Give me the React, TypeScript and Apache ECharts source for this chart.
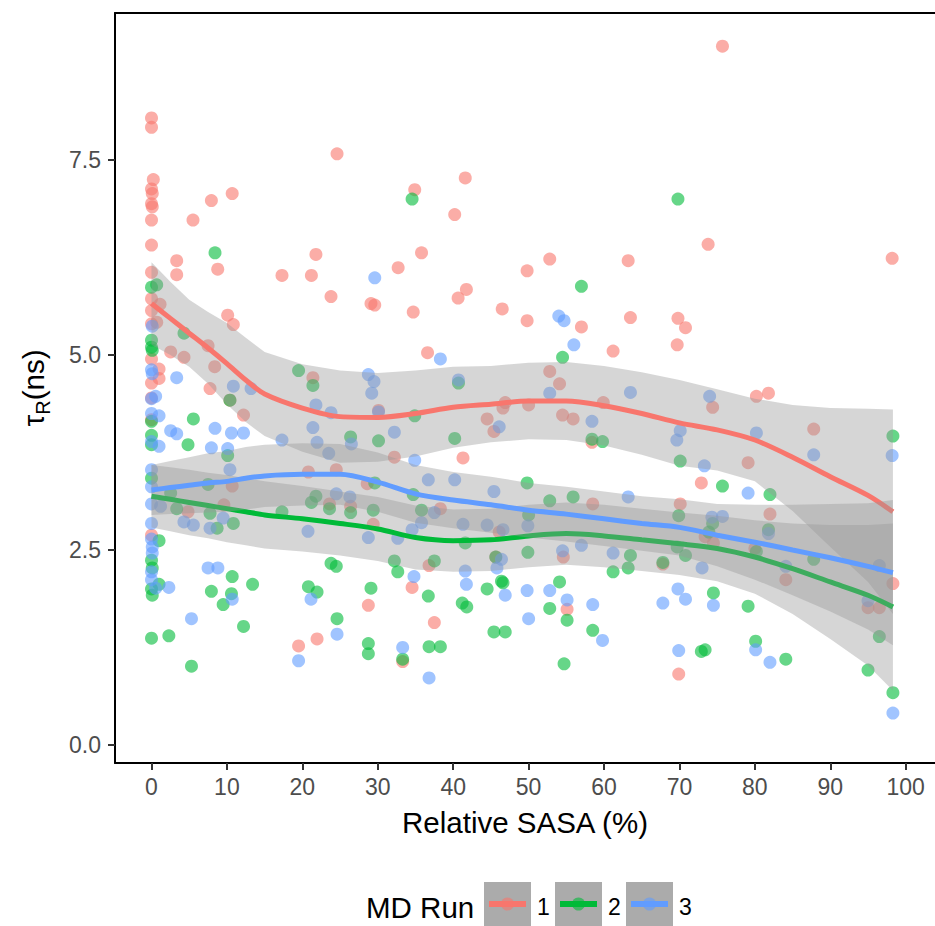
import React, { useEffect, useRef } from "react";
import * as echarts from "echarts";

const FONT = "'Liberation Sans', Arial, Helvetica, sans-serif";
const RUN_NAMES = ["1", "2", "3"];
const RUN_COLORS = ["#F8766D", "#00BA38", "#619CFF"];

const xTicks = [0, 10, 20, 30, 40, 50, 60, 70, 80, 90, 100];
const yTicks = [0, 2.5, 5, 7.5];

// Relative SASA (%) vs tau_R (ns), one list per MD run
const run1Points: [number, number][] = [
  [0, 8.04], [0, 7.92], [0.24, 7.25], [0, 7.13], [0.1, 7.07], [0, 6.94], [0.1, 6.9], [0, 6.73], [0, 6.41], [0, 6.06],
  [0, 5.72], [0, 5.57], [0, 5.4], [0, 4.95], [0, 4.64], [0, 4.45], [0, 4.17], [0, 2.69],
  [0.69, 5.42], [1.13, 5.65], [1.0, 4.82], [1.0, 4.7],
  [3.34, 6.21], [3.34, 6.03], [5.5, 6.73], [7.94, 6.98], [10.7, 7.07], [8.78, 6.1], [10.1, 5.51], [10.85, 5.39],
  [2.54, 5.04], [4.31, 4.97], [7.5, 5.12], [8.38, 4.85], [7.76, 4.57], [12.2, 4.23], [10.4, 4.42], [10.7, 3.32],
  [4.84, 2.99], [9.6, 3.08],
  [24.6, 7.58], [41.6, 7.27], [34.9, 7.12], [40.2, 6.8], [21.8, 6.29], [35.8, 6.31], [17.3, 6.02], [21.2, 6.02],
  [32.7, 6.12], [23.8, 5.75], [41.75, 5.84], [40.65, 5.73], [29.1, 5.66], [29.6, 5.64], [34.7, 5.55], [36.6, 5.03],
  [21.4, 4.71],
  [30.1, 4.29], [32.2, 3.69], [41.3, 3.68], [20.8, 3.5], [24.5, 3.53], [28.6, 3.35], [23.6, 3.09], [26.4, 3.06],
  [29.4, 2.83], [38.3, 3.03], [36.8, 2.3], [34.55, 2.02], [28.75, 1.79], [37.5, 1.57], [19.5, 1.27], [21.95, 1.36],
  [33.3, 1.07],
  [52.8, 6.23], [49.8, 6.08], [63.2, 6.21], [73.8, 6.42], [46.5, 5.59], [49.8, 5.44], [57.0, 5.36], [63.5, 5.48],
  [69.8, 5.47], [70.8, 5.35], [61.2, 5.05], [69.7, 5.13], [52.8, 4.79], [54.1, 4.63],
  [46.9, 4.39], [46.6, 4.32], [50.0, 4.36], [44.5, 4.18], [45.4, 4.02], [54.5, 4.23], [55.9, 4.18], [59.9, 4.39],
  [58.4, 3.88], [72.9, 3.36], [58.5, 3.09], [70.1, 3.09], [46.1, 2.73], [45.65, 2.41], [54.6, 2.41], [67.8, 2.32],
  [55.1, 1.74], [69.9, 0.91], [73.4, 2.67],
  [75.7, 8.96], [98.2, 6.24],
  [80.2, 4.47], [81.8, 4.51], [74.4, 4.33], [87.8, 4.05], [79.1, 3.62], [82.0, 2.96], [74.5, 2.59], [80.0, 2.52],
  [84.1, 2.12], [98.3, 2.07], [95.0, 1.76], [96.5, 1.76],
];

const run2Points: [number, number][] = [
  [0, 5.87], [0.69, 5.9], [0, 5.19], [0, 5.1], [0.1, 5.06], [0, 4.15], [0, 3.97], [0, 3.85], [0, 3.42], [0, 2.37],
  [0.1, 2.27], [0, 2.0], [0.1, 1.92], [0, 1.37],
  [8.42, 6.31], [4.31, 5.28], [5.55, 4.18], [4.84, 3.85], [10.1, 3.71], [2.54, 3.23], [7.5, 3.34], [3.34, 3.03],
  [7.76, 2.97], [8.7, 2.78], [10.85, 2.84], [1.0, 2.62], [1.0, 2.06], [10.7, 2.16], [13.4, 2.06], [7.94, 1.97],
  [10.6, 1.94], [9.5, 1.8], [12.2, 1.52], [2.3, 1.4], [5.3, 1.01], [10.4, 4.42],
  [34.55, 7.0], [19.5, 4.8], [21.4, 4.61], [40.7, 4.64],
  [34.9, 4.22], [26.4, 3.95], [30.1, 3.9], [40.2, 3.93], [29.6, 3.36], [21.8, 3.19], [21.2, 3.11], [34.7, 3.21],
  [17.3, 2.99], [23.6, 3.03], [26.4, 2.98], [29.4, 3.01], [35.8, 3.01], [23.8, 2.33], [24.5, 2.29], [32.2, 2.36],
  [32.65, 2.22], [37.5, 2.36], [41.6, 2.59], [20.8, 2.03], [21.95, 1.96], [29.1, 2.01], [36.7, 1.91], [24.6, 1.62],
  [41.2, 1.82], [41.8, 1.77], [28.75, 1.3], [28.75, 1.17], [33.3, 1.1], [36.8, 1.26], [38.3, 1.26],
  [69.8, 7.0], [57.0, 5.88], [54.5, 4.97],
  [49.8, 3.36], [52.8, 3.13], [55.9, 3.18], [50.0, 2.95], [69.9, 2.94], [58.4, 3.92], [59.8, 3.89], [70.1, 3.64],
  [49.9, 2.47], [63.5, 2.43], [63.2, 2.27], [61.2, 2.22], [67.8, 2.34], [69.7, 2.54], [70.8, 2.43], [45.65, 2.41],
  [46.4, 2.1], [46.6, 2.08], [44.5, 2.0], [54.1, 2.09], [52.8, 1.75], [55.1, 1.6], [45.4, 1.45], [46.9, 1.45],
  [58.5, 1.47], [54.7, 1.04], [72.9, 1.2], [73.4, 1.22],
  [98.3, 3.96], [75.7, 3.32], [82.0, 3.21], [74.4, 2.84], [73.9, 2.73], [81.8, 2.76], [80.2, 2.48], [87.8, 2.38],
  [74.5, 1.95], [79.1, 1.78], [80.1, 1.33], [84.1, 1.1], [96.5, 1.39], [95.0, 0.96], [98.3, 0.67],
];

const run3Points: [number, number][] = [
  [0.1, 5.37], [0, 4.81], [0.1, 4.76], [0, 4.44], [0.55, 4.47], [0, 4.25], [1.0, 4.22], [0, 3.89], [1.0, 3.83],
  [0, 3.53], [0, 3.31], [0, 3.09], [1.2, 3.06], [0, 2.84], [0, 2.64], [0.1, 2.54], [0.1, 2.46], [0, 2.22], [0, 2.12],
  [0.55, 2.01],
  [3.34, 4.71], [10.85, 4.6], [13.2, 4.57], [2.54, 4.03], [3.34, 3.99], [8.42, 4.06], [10.6, 4.0], [12.2, 4.0],
  [7.94, 3.81], [10.1, 3.8], [10.4, 3.53], [4.3, 2.86], [5.55, 2.82], [7.76, 2.78], [9.5, 2.91], [2.3, 2.02],
  [7.5, 2.27], [8.8, 2.27], [10.7, 1.87], [5.3, 1.62],
  [29.6, 5.99], [38.3, 4.95], [28.75, 4.75], [29.5, 4.66], [40.7, 4.68],
  [29.2, 4.51], [30.1, 4.27], [21.8, 4.36], [23.8, 4.26], [21.4, 4.07], [17.3, 3.91], [21.95, 3.88], [26.5, 3.86],
  [32.2, 4.01], [23.5, 3.74], [34.9, 3.65], [36.7, 3.4], [40.2, 3.4], [24.5, 3.22], [26.3, 3.18], [37.5, 2.98],
  [35.8, 2.85], [34.55, 2.76], [41.3, 2.83], [20.75, 2.74], [28.75, 2.66], [32.65, 2.65], [34.8, 2.16], [41.6, 2.23],
  [41.75, 2.06], [21.15, 1.87], [24.6, 1.42], [19.5, 1.08], [33.3, 1.25], [36.8, 0.86],
  [54.0, 5.5], [54.7, 5.44], [56.0, 5.13],
  [52.8, 4.51], [63.5, 4.52], [46.1, 4.08], [58.4, 4.15], [70.1, 4.03], [69.65, 3.91], [73.3, 3.58], [45.4, 3.25],
  [63.2, 3.18], [44.5, 2.82], [46.6, 2.76], [49.9, 2.81], [57.0, 2.56], [54.5, 2.49], [61.2, 2.46], [46.4, 2.38],
  [45.8, 2.27], [73.0, 2.27], [46.9, 1.92], [49.8, 1.98], [52.8, 1.98], [55.1, 1.86], [58.5, 1.8], [50.0, 1.62],
  [59.8, 1.34], [67.8, 1.82], [69.8, 2.0], [70.8, 1.87], [69.9, 1.21],
  [74.0, 4.47], [80.2, 4.0], [87.8, 3.72], [98.2, 3.71], [79.1, 3.23], [74.3, 2.92], [75.7, 2.93], [81.8, 2.71],
  [84.1, 2.29], [96.5, 2.3], [95.0, 1.85], [74.5, 1.79], [80.1, 1.22], [82.0, 1.06], [98.3, 0.41],
];

// Loess fits with their confidence bands, sampled along Relative SASA
const fitX = [0, 2.5, 5, 7.5, 10, 12.5, 15, 20, 25, 30, 35, 40, 45, 50, 55, 60, 65, 70, 75, 80, 85, 90, 95, 98.3];

const fit1 = [5.66, 5.47, 5.28, 5.09, 4.89, 4.68, 4.5, 4.32, 4.21, 4.2, 4.25, 4.33, 4.37, 4.41, 4.41, 4.35, 4.25, 4.13, 4.04, 3.91, 3.69, 3.44, 3.2, 2.99];
const hi1 = [6.19, 5.94, 5.71, 5.55, 5.41, 5.22, 5.04, 4.88, 4.8, 4.77, 4.8, 4.85, 4.86, 4.9, 4.91, 4.86, 4.78, 4.68, 4.56, 4.44, 4.36, 4.32, 4.31, 4.3];
const lo1 = [5.13, 5.0, 4.85, 4.63, 4.37, 4.14, 3.96, 3.76, 3.62, 3.63, 3.7, 3.81, 3.88, 3.92, 3.91, 3.84, 3.72, 3.58, 3.52, 3.38, 3.0, 2.54, 2.09, 1.68];

const fit2 = [3.19, 3.15, 3.11, 3.07, 3.03, 2.99, 2.95, 2.9, 2.84, 2.77, 2.66, 2.62, 2.63, 2.68, 2.71, 2.68, 2.63, 2.58, 2.52, 2.41, 2.26, 2.09, 1.92, 1.77];
const hi2 = [3.59, 3.56, 3.53, 3.49, 3.46, 3.42, 3.38, 3.32, 3.25, 3.18, 3.07, 3.02, 3.03, 3.08, 3.11, 3.08, 3.03, 2.98, 2.94, 2.88, 2.84, 2.82, 2.82, 2.84];
const lo2 = [2.79, 2.74, 2.69, 2.65, 2.6, 2.56, 2.52, 2.48, 2.43, 2.36, 2.25, 2.22, 2.23, 2.28, 2.31, 2.28, 2.23, 2.18, 2.1, 1.94, 1.68, 1.36, 1.02, 0.7];

const fit3 = [3.27, 3.3, 3.33, 3.36, 3.38, 3.42, 3.45, 3.47, 3.47, 3.37, 3.22, 3.14, 3.08, 3.01, 2.96, 2.9, 2.84, 2.79, 2.69, 2.6, 2.5, 2.4, 2.29, 2.21];
const hi3 = [3.59, 3.64, 3.69, 3.74, 3.77, 3.82, 3.85, 3.87, 3.86, 3.75, 3.59, 3.5, 3.44, 3.36, 3.31, 3.25, 3.19, 3.15, 3.09, 3.08, 3.08, 3.09, 3.1, 3.14];
const lo3 = [2.95, 2.96, 2.97, 2.98, 2.99, 3.02, 3.05, 3.07, 3.08, 2.99, 2.85, 2.78, 2.72, 2.66, 2.61, 2.55, 2.49, 2.43, 2.29, 2.12, 1.92, 1.71, 1.48, 1.28];

const runPoints = [run1Points, run2Points, run3Points];
const runFits = [fit1, fit2, fit3];
const runBands = [[lo1, hi1], [lo2, hi2], [lo3, hi3]];

// Panel extent (data units) and layout in pixels
const X_MIN = -4.84;
const X_MAX = 103.88;
const Y_MIN = -0.231;
const Y_MAX = 9.385;
const PANEL = { left: 115, right: 0, top: 13, bottom: 163 };
// Grid spanning exactly the labelled tick range, used for ticks and tick labels
const TICK_GRID = { left: 151.5, right: 29.3, top: 160, bottom: 181 };

function bandSeries(lo: number[], hi: number[], z: number) {
  const data = fitX.map((x, i) => [x, lo[i], hi[i]]);
  return {
    type: "custom",
    silent: true,
    z,
    data,
    encode: { x: 0, y: [1, 2] },
    renderItem: (params: any, api: any) => {
      if (params.dataIndex !== 0) return null;
      const upper = data.map((d) => api.coord([d[0], d[2]]));
      const lower = data.map((d) => api.coord([d[0], d[1]])).reverse();
      return {
        type: "polygon",
        shape: { points: upper.concat(lower) },
        style: { fill: "rgba(153,153,153,0.4)", stroke: "none" },
      };
    },
  };
}

function legendGraphics() {
  const els: any[] = [
    {
      type: "text",
      left: 366,
      top: 892,
      style: { text: "MD Run", fontSize: 29.5, fontFamily: FONT, fill: "#000" },
    },
  ];
  RUN_NAMES.forEach((name, i) => {
    const x0 = 484 + i * 71;
    els.push({ type: "rect", shape: { x: x0, y: 882, width: 47, height: 44 }, style: { fill: "#ABABAB" } });
    els.push({
      type: "circle",
      shape: { cx: x0 + 23.5, cy: 904, r: 6.5 },
      style: { fill: RUN_COLORS[i], opacity: 0.6 },
    });
    els.push({
      type: "line",
      shape: { x1: x0 + 5, y1: 904, x2: x0 + 42, y2: 904 },
      style: { stroke: RUN_COLORS[i], lineWidth: 6 },
    });
    els.push({
      type: "text",
      left: x0 + 53,
      top: 895,
      style: { text: name, fontSize: 23, fontFamily: FONT, fill: "#000" },
    });
  });
  return els;
}

const tickLabelStyle = { fontSize: 23, fontFamily: FONT, color: "#4D4D4D" };
const tickStyle = { show: true, length: 7, lineStyle: { color: "#333", width: 2 } };

export default function App() {
  const ref = useRef<HTMLDivElement>(null);

  useEffect(() => {
    if (!ref.current) return;
    const chart = echarts.init(ref.current, undefined, { renderer: "svg" });

    const series: any[] = [];
    runPoints.forEach((pts, i) => {
      series.push({
        type: "scatter",
        name: RUN_NAMES[i],
        data: pts,
        symbol: "circle",
        symbolSize: 13,
        z: 2,
        itemStyle: { color: RUN_COLORS[i], opacity: 0.6 },
        emphasis: { disabled: true },
      });
    });
    runFits.forEach((fit, i) => {
      series.push(bandSeries(runBands[i][0], runBands[i][1], 3 + i * 2));
      series.push({
        type: "line",
        name: RUN_NAMES[i] + " fit",
        data: fitX.map((x, k) => [x, fit[k]]),
        showSymbol: false,
        smooth: 0.3,
        z: 4 + i * 2,
        lineStyle: { color: RUN_COLORS[i], width: 5 },
        emphasis: { disabled: true },
      });
    });

    chart.setOption({
      animation: false,
      backgroundColor: "#fff",
      grid: [
        { ...PANEL, outerBoundsMode: "none" },
        { ...TICK_GRID, outerBoundsMode: "none" },
      ],
      xAxis: [
        {
          type: "value",
          gridIndex: 0,
          min: X_MIN,
          max: X_MAX,
          position: "bottom",
          name: "Relative SASA (%)",
          nameLocation: "middle",
          nameGap: 44,
          nameTextStyle: { fontSize: 29.5, fontFamily: FONT, color: "#000" },
          axisLine: { show: true, onZero: false, lineStyle: { color: "#000", width: 2 } },
          axisTick: { show: false },
          axisLabel: { show: false },
          splitLine: { show: false },
        },
        {
          type: "value",
          gridIndex: 0,
          min: X_MIN,
          max: X_MAX,
          position: "top",
          axisLine: { show: true, onZero: false, lineStyle: { color: "#000", width: 2 } },
          axisTick: { show: false },
          axisLabel: { show: false },
          splitLine: { show: false },
        },
        {
          type: "value",
          gridIndex: 1,
          min: xTicks[0],
          max: xTicks[xTicks.length - 1],
          interval: 10,
          position: "bottom",
          offset: 18,
          axisLine: { show: false, onZero: false },
          axisTick: tickStyle,
          axisLabel: { ...tickLabelStyle, margin: 12 },
          splitLine: { show: false },
        },
      ],
      yAxis: [
        {
          type: "value",
          gridIndex: 0,
          min: Y_MIN,
          max: Y_MAX,
          name: "{a|τ}{s|R}{a|(ns)}",
          nameLocation: "middle",
          nameRotate: 90,
          nameGap: 62,
          nameTextStyle: {
            fontFamily: FONT,
            color: "#000",
            rich: {
              a: { fontSize: 29.5, fontFamily: FONT, color: "#000", lineHeight: 40, verticalAlign: "middle" },
              s: { fontSize: 20, fontFamily: FONT, color: "#000", lineHeight: 20, verticalAlign: "bottom" },
            },
          },
          axisLine: { show: true, onZero: false, lineStyle: { color: "#000", width: 2 } },
          axisTick: { show: false },
          axisLabel: { show: false },
          splitLine: { show: false },
        },
        {
          type: "value",
          gridIndex: 1,
          min: yTicks[0],
          max: yTicks[yTicks.length - 1],
          interval: 2.5,
          position: "left",
          offset: 36.5,
          axisLine: { show: false, onZero: false },
          axisTick: tickStyle,
          axisLabel: { ...tickLabelStyle, margin: 14, formatter: (v: number) => v.toFixed(1) },
          splitLine: { show: false },
        },
      ],
      graphic: legendGraphics(),
      series,
    });

    return () => chart.dispose();
  }, []);

  return (
    <div
      ref={ref}
      style={{ position: "fixed", left: 0, top: 0, width: 935, height: 926, background: "#fff" }}
    />
  );
}
